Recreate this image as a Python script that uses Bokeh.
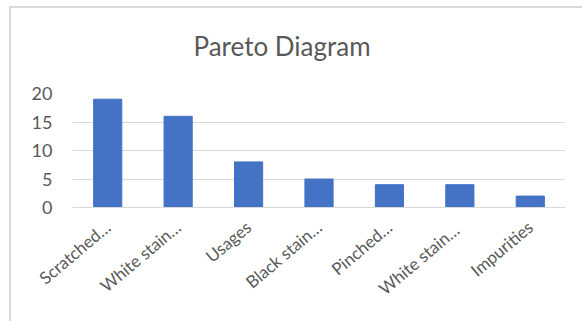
import math
from bokeh.plotting import figure
from bokeh.models import ColumnDataSource, Title
from bokeh.embed import file_html
from bokeh.resources import INLINE

title_text = "Pareto Diagram"
categories = ["Scratched…", "White stain…", "Usages", "Black stain…", "Pinched…", "White stain… ", "Impurities"]
counts = [19, 16, 8, 5, 4, 4, 2]
y_ticks = [0, 5, 10, 15, 20]

src = ColumnDataSource(dict(cat=categories, val=counts))

p = figure(x_range=categories, y_range=(0, 20), width=573, height=315,
           output_backend="svg", toolbar_location=None,
           min_border_left=61, min_border_right=19, min_border_top=70, min_border_bottom=116)
p.styles = {"margin-left": "9px", "margin-top": "6px",
            "border-left": "2px solid #d9d9d9", "border-top": "2px solid #d9d9d9"}

p.vbar(x="cat", top="val", width=0.4, source=src, fill_color="#4472C4", line_color="#4472C4")

spacer = Title(text=" ", text_font_size="8px", standoff=1)
p.add_layout(spacer, "above")
main_title = Title(text=title_text, align="left", offset=121, text_font="Lato",
                   text_font_size="26px", text_font_style="normal", text_color="#595959",
                   standoff=39)
p.add_layout(main_title, "above")

p.outline_line_color = None
p.xgrid.grid_line_color = None
p.ygrid.grid_line_color = "#d9d9d9"
p.ygrid.ticker = y_ticks
p.yaxis.ticker = y_ticks
p.yaxis.axis_line_color = None
p.yaxis.major_tick_line_color = None
p.yaxis.minor_tick_line_color = None
p.yaxis.major_label_text_font = "Lato"
p.yaxis.major_label_text_font_size = "18px"
p.yaxis.major_label_text_color = "#595959"
p.yaxis.major_label_standoff = 14

p.xaxis.axis_line_color = "#d9d9d9"
p.xaxis.major_tick_line_color = None
p.xaxis.major_label_orientation = 0.7
p.xaxis.major_label_standoff = 11
p.xaxis.major_label_text_font = "Lato"
p.xaxis.major_label_text_font_size = "17px"
p.xaxis.major_label_text_color = "#595959"
p.x_range.range_padding = 0

open("out.html", "w").write(file_html(p, INLINE))
